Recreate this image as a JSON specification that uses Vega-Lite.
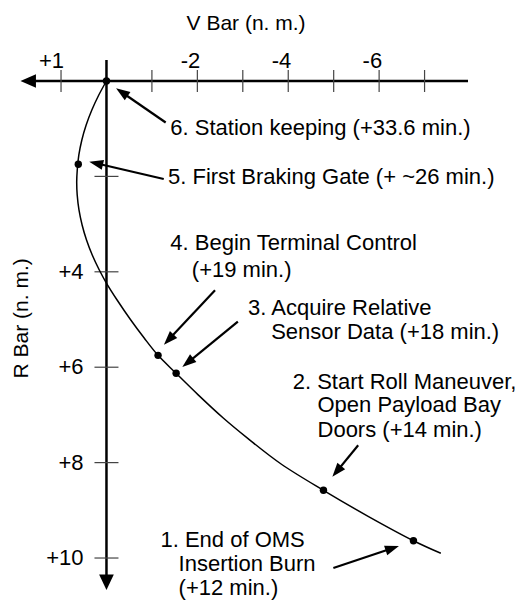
{
  "$schema": "https://vega.github.io/schema/vega-lite/v6.json",
  "width": 515,
  "height": 601,
  "autosize": {"type": "fit", "contains": "padding"},
  "padding": 0,
  "background": "white",
  "config": {
    "view": {"stroke": null},
    "text": {"font": "Liberation Sans", "fontSize": 22, "color": "black"}
  },
  "datasets": {
    "axes": [
      {"axis": "V Bar", "v": -7.956, "r": 0, "v2": 1.722, "r2": 0},
      {"axis": "R Bar", "v": 0, "r": -0.44, "v2": 0, "r2": 10.509}
    ],
    "vTicks": [
      {"v": 1, "r": 0, "label": "+1"},
      {"v": -1, "r": 0, "label": ""},
      {"v": -2, "r": 0, "label": "-2"},
      {"v": -3, "r": 0, "label": ""},
      {"v": -4, "r": 0, "label": "-4"},
      {"v": -5, "r": 0, "label": ""},
      {"v": -6, "r": 0, "label": "-6"},
      {"v": -7, "r": 0, "label": ""}
    ],
    "rTicks": [
      {"v": 0, "r": 2, "label": ""},
      {"v": 0, "r": 4, "label": "+4"},
      {"v": 0, "r": 6, "label": "+6"},
      {"v": 0, "r": 8, "label": "+8"},
      {"v": 0, "r": 10, "label": "+10"}
    ],
    "curve": [
      {"v": 0, "r": 0},
      {"v": 0.169, "r": 0.294},
      {"v": 0.322, "r": 0.608},
      {"v": 0.447, "r": 0.922},
      {"v": 0.542, "r": 1.237},
      {"v": 0.608, "r": 1.551},
      {"v": 0.643, "r": 1.866},
      {"v": 0.655, "r": 2.117},
      {"v": 0.644, "r": 2.39},
      {"v": 0.605, "r": 2.704},
      {"v": 0.536, "r": 3.019},
      {"v": 0.439, "r": 3.333},
      {"v": 0.313, "r": 3.648},
      {"v": 0.158, "r": 3.962},
      {"v": -0.002, "r": 4.241},
      {"v": -0.234, "r": 4.591},
      {"v": -0.535, "r": 5.01},
      {"v": -0.83, "r": 5.388},
      {"v": -1.135, "r": 5.751},
      {"v": -1.533, "r": 6.128},
      {"v": -2.024, "r": 6.585},
      {"v": -2.57, "r": 7.065},
      {"v": -3.116, "r": 7.497},
      {"v": -3.843, "r": 8.029},
      {"v": -4.775, "r": 8.581},
      {"v": -5.758, "r": 9.126},
      {"v": -6.755, "r": 9.637},
      {"v": -7.358, "r": 9.901}
    ],
    "events": [
      {"event": 1, "v": -6.755, "r": 9.637},
      {"event": 2, "v": -4.775, "r": 8.581},
      {"event": 3, "v": -1.533, "r": 6.128},
      {"event": 4, "v": -1.135, "r": 5.751},
      {"event": 5, "v": 0.62, "r": 1.746},
      {"event": 6, "v": 0, "r": 0}
    ],
    "arrows": [
      {"event": 6, "v": -1.303, "r": 0.87, "v2": -0.338, "r2": 0.236, "heading": 214.4},
      {"event": 5, "v": -1.26, "r": 2.055, "v2": 0.229, "r2": 1.725, "heading": 193.0},
      {"event": 4, "v": -2.389, "r": 4.388, "v2": -1.371, "r2": 5.421, "heading": 133.4},
      {"event": 3, "v": -2.891, "r": 5.046, "v2": -1.789, "r2": 5.903, "heading": 141.0},
      {"event": 2, "v": -5.539, "r": 7.637, "v2": -5.069, "r2": 8.183, "heading": 129.6},
      {"event": 1, "v": -4.993, "r": 10.21, "v2": -6.29, "r2": 9.795, "heading": 341.6}
    ],
    "notes": [
      {"text": "6. Station keeping (+33.6 min.)", "v": -1.406, "r": 0.992},
      {"text": "5. First Braking Gate (+ ~26 min.)", "v": -1.354, "r": 2.006},
      {"text": "4. Begin Terminal Control", "v": -1.406, "r": 3.403},
      {"text": "(+19 min.)", "v": -1.878, "r": 3.962},
      {"text": "3. Acquire Relative", "v": -3.116, "r": 4.765},
      {"text": "Sensor Data (+18 min.)", "v": -3.624, "r": 5.256},
      {"text": "2. Start Roll Maneuver,", "v": -4.098, "r": 6.304},
      {"text": "Open Payload Bay", "v": -4.644, "r": 6.792},
      {"text": "Doors (+14 min.)", "v": -4.644, "r": 7.317},
      {"text": "1. End of OMS", "v": -1.188, "r": 9.615},
      {"text": "Insertion Burn", "v": -1.587, "r": 10.126},
      {"text": "(+12 min.)", "v": -1.587, "r": 10.637}
    ]
  },
  "encoding": {
    "x": {"field": "v", "type": "quantitative", "axis": null,
          "scale": {"domain": [-8.902, 2.343], "reverse": true, "nice": false, "zero": false}},
    "y": {"field": "r", "type": "quantitative", "axis": null,
          "scale": {"domain": [-1.698, 10.901], "reverse": true, "nice": false, "zero": false}}
  },
  "layer": [
    {
      "data": {"name": "axes"},
      "mark": {"type": "rule", "color": "black", "strokeWidth": 2.5},
      "encoding": {"x2": {"field": "v2"}, "y2": {"field": "r2"}}
    },
    {
      "data": {"name": "axes"},
      "mark": {"type": "point", "filled": true, "color": "black", "opacity": 1, "size": 240},
      "encoding": {
        "x": {"field": "v2", "type": "quantitative"},
        "y": {"field": "r2", "type": "quantitative"},
        "shape": {"field": "axis", "type": "nominal", "legend": null,
                  "scale": {"domain": ["V Bar", "R Bar"], "range": ["M1,-0.875L1,0.875L-1,0Z", "M-0.95,-1L0.95,-1L0,1Z"]}}
      }
    },
    {
      "data": {"name": "vTicks"},
      "mark": {"type": "tick", "orient": "vertical", "size": 22, "thickness": 1.2, "color": "#444", "opacity": 1}
    },
    {
      "data": {"name": "rTicks"},
      "mark": {"type": "tick", "orient": "horizontal", "size": 24, "thickness": 1.2, "color": "#444", "opacity": 1}
    },
    {
      "data": {"name": "vTicks"},
      "mark": {"type": "text", "align": "right", "baseline": "middle", "dx": 3, "dy": -20},
      "encoding": {"text": {"field": "label"}}
    },
    {
      "data": {"name": "rTicks"},
      "mark": {"type": "text", "align": "right", "baseline": "middle", "dx": -23},
      "encoding": {"text": {"field": "label"}}
    },
    {
      "data": {"name": "curve"},
      "mark": {"type": "line", "color": "black", "strokeWidth": 1.5, "interpolate": "catmull-rom"},
      "encoding": {"order": {"field": "r", "type": "quantitative"}}
    },
    {
      "data": {"name": "arrows"},
      "mark": {"type": "rule", "color": "black", "strokeWidth": 2.2},
      "encoding": {"x2": {"field": "v2"}, "y2": {"field": "r2"}}
    },
    {
      "data": {"name": "arrows"},
      "mark": {"type": "point", "filled": true, "color": "black", "opacity": 1, "size": 196,
               "shape": "M1,0L-1,-0.72L-1,0.72Z"},
      "encoding": {
        "x": {"field": "v2", "type": "quantitative"},
        "y": {"field": "r2", "type": "quantitative"},
        "angle": {"field": "heading", "type": "quantitative", "scale": null}
      }
    },
    {
      "data": {"name": "events"},
      "mark": {"type": "point", "filled": true, "color": "black", "opacity": 1, "size": 55, "shape": "circle"}
    },
    {
      "data": {"name": "notes"},
      "mark": {"type": "text", "align": "left", "baseline": "middle"},
      "encoding": {"text": {"field": "text"}}
    },
    {
      "data": {"values": [{"title": "V Bar (n. m.)", "v": -3.072, "r": -1.195}]},
      "mark": {"type": "text", "align": "center", "baseline": "middle", "fontSize": 21},
      "encoding": {"text": {"field": "title"}}
    },
    {
      "data": {"values": [{"title": "R Bar (n. m.)", "v": 1.869, "r": 4.975}]},
      "mark": {"type": "text", "align": "center", "baseline": "middle", "angle": 270, "fontSize": 21},
      "encoding": {"text": {"field": "title"}}
    }
  ]
}
